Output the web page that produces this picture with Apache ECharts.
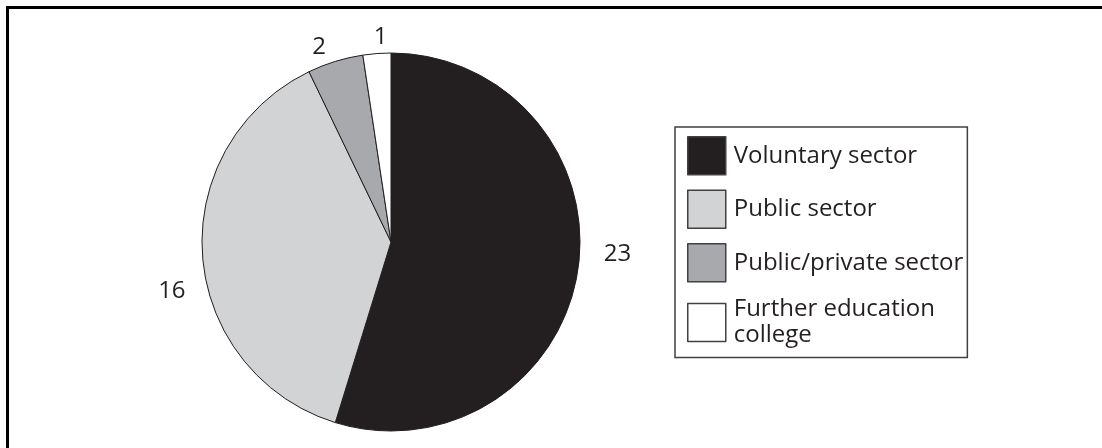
<!DOCTYPE html>
<html>
<head>
<meta charset="utf-8">
<script src="https://cdn.jsdelivr.net/npm/echarts@6/dist/echarts.min.js"></script>
<style>
  html, body { margin: 0; padding: 0; background: #fff; }
  #chart { width: 1102px; height: 448px; }
</style>
</head>
<body>
<div id="chart"></div>
<script>
// ---- data ----
const categories = ['Voluntary sector', 'Public sector', 'Public/private sector', 'Further education college'];
const values = [23, 16, 2, 1];
const legendLabels = ['Voluntary sector', 'Public sector', 'Public/private sector', 'Further education\ncollege'];

// ---- styles ----
const sliceColors = ['#231f20', '#d1d3d4', '#a7a9ac', '#ffffff'];
const labelOffsets = [[0, -19], [9, 34], [4, 3], [20, 2]];
const FONT = '"Open Sans", "Noto Sans", sans-serif';

const chart = echarts.init(document.getElementById('chart'), null, { renderer: 'canvas' });

const data = categories.map((name, i) => ({
  name: name,
  value: values[i],
  itemStyle: { color: sliceColors[i] },
  label: { offset: labelOffsets[i] }
}));

const option = {
  animation: false,
  backgroundColor: '#ffffff',
  graphic: [{
    type: 'rect',
    shape: { x: 7.5, y: 7.5, width: 1120, height: 470 },
    style: { fill: 'none', stroke: '#000000', lineWidth: 3 },
    silent: true
  }],
  legend: {
    orient: 'vertical',
    left: 675,
    top: 127,
    padding: [9, 4, 9, 12],
    itemWidth: 38,
    itemHeight: 38,
    itemGap: 14,
    icon: 'rect',
    borderColor: '#414042',
    borderWidth: 1.5,
    itemStyle: { borderColor: '#414042', borderWidth: 1.5 },
    data: categories,
    formatter: function (name) { return legendLabels[categories.indexOf(name)]; },
    textStyle: { fontFamily: FONT, fontSize: 24, color: '#231f20', lineHeight: 26, padding: [0, 0, 0, 3] }
  },
  series: [{
    type: 'pie',
    center: [391, 242],
    radius: 189,
    startAngle: 90,
    clockwise: true,
    avoidLabelOverlap: false,
    itemStyle: { borderColor: '#231f20', borderWidth: 1 },
    label: {
      show: true,
      position: 'outside',
      formatter: '{c}',
      fontFamily: FONT,
      fontSize: 24,
      color: '#231f20',
      distanceToLabelLine: 0
    },
    labelLine: { show: false, length: 18, length2: 8 },
    emphasis: { disabled: true },
    data: data
  }]
};

chart.setOption(option);
</script>
</body>
</html>
